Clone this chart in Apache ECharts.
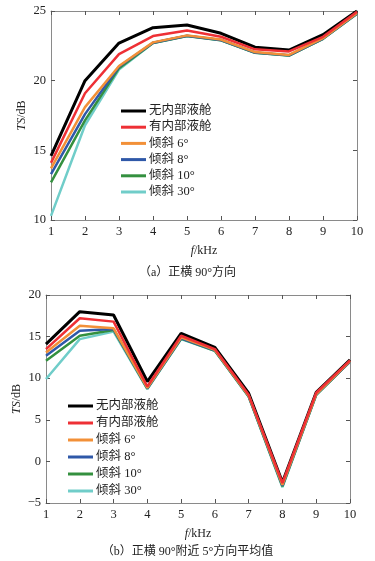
<!DOCTYPE html>
<html>
<head>
<meta charset="utf-8">
<script src="https://cdn.jsdelivr.net/npm/echarts@6/dist/echarts.min.js"></script>
<style>
  html, body { margin: 0; padding: 0; background: #fff; }
  #main { width: 375px; height: 561px; }
</style>
</head>
<body>
<div id="main"></div>
<script>
// 频率 / kHz
var freq = [1, 2, 3, 4, 5, 6, 7, 8, 9, 10];
var names = ['无内部液舱', '有内部液舱', '倾斜 6°', '倾斜 8°', '倾斜 10°', '倾斜 30°'];
var colors = ['#000000', '#ee3035', '#f29038', '#2f58a8', '#34903f', '#70cdc9'];

// (a) 正横 90°方向
var aNone = [14.6, 20.0, 22.7, 23.8, 24.0, 23.4, 22.4, 22.2, 23.3, 25.0];
var aTank = [14.1, 19.1, 21.9, 23.2, 23.6, 23.15, 22.25, 22.1, 23.15, 24.95];
var aTilt6 = [13.7, 18.1, 21.05, 22.75, 23.25, 22.95, 22.05, 21.85, 23.05, 24.85];
var aTilt8 = [13.3, 17.6, 21.0, 22.72, 23.22, 22.92, 22.02, 21.82, 23.02, 24.82];
var aTilt10 = [12.7, 17.15, 20.9, 22.7, 23.2, 22.9, 22.0, 21.8, 23.0, 24.8];
var aTilt30 = [10.3, 16.8, 20.8, 22.7, 23.2, 22.9, 22.0, 21.8, 23.0, 24.8];

// (b) 正横 90°附近 5°方向平均值
var bNone = [14.1, 18.0, 17.6, 9.6, 15.4, 13.7, 8.2, -2.5, 8.3, 12.2];
var bTank = [13.5, 17.2, 16.8, 9.0, 15.1, 13.5, 8.0, -2.6, 8.25, 12.15];
var bTilt6 = [13.1, 16.3, 16.0, 8.85, 14.9, 13.4, 7.9, -2.8, 8.1, 12.05];
var bTilt8 = [12.7, 15.7, 15.9, 8.8, 14.8, 13.35, 7.85, -2.9, 8.05, 12.0];
var bTilt10 = [12.1, 15.1, 15.8, 8.75, 14.75, 13.3, 7.8, -3.0, 8.0, 12.0];
var bTilt30 = [9.9, 14.7, 15.6, 8.7, 14.7, 13.3, 7.8, -3.1, 8.0, 12.0];

var aData = [aNone, aTank, aTilt6, aTilt8, aTilt10, aTilt30];
var bData = [bNone, bTank, bTilt6, bTilt8, bTilt10, bTilt30];

var serif = 'Liberation Serif, Noto Sans CJK SC, serif';
var textColor = '#222';
var frameColor = '#8a8a8a';

function pairs(ys) {
  return freq.map(function (f, i) { return [f, ys[i]]; });
}

function xAxes(gridIndex) {
  var base = {
    type: 'value', gridIndex: gridIndex, min: 1, max: 10, interval: 1,
    axisLine: { show: true, onZero: false, lineStyle: { color: frameColor, width: 1 } },
    axisTick: { show: true, inside: true, length: 4, lineStyle: { color: '#555' } },
    splitLine: { show: false }
  };
  var bottom = Object.assign({}, base, {
    position: 'bottom',
    axisLabel: { show: true, color: textColor, fontFamily: serif, fontSize: 12.5, margin: 5 },
    name: '{i|f}/kHz', nameLocation: 'middle', nameGap: 25,
    nameTextStyle: {
      color: textColor, fontFamily: serif, fontSize: 12,
      rich: { i: { fontStyle: 'italic', fontFamily: serif, fontSize: 12, color: textColor } }
    }
  });
  var top = Object.assign({}, base, { position: 'top', axisLabel: { show: false } });
  return [bottom, top];
}

function yAxes(gridIndex, min, max) {
  var base = {
    type: 'value', gridIndex: gridIndex, min: min, max: max, interval: 5,
    axisLine: { show: true, onZero: false, lineStyle: { color: frameColor, width: 1 } },
    axisTick: { show: true, inside: true, length: 4, lineStyle: { color: '#555' } },
    splitLine: { show: false }
  };
  var left = Object.assign({}, base, {
    position: 'left',
    axisLabel: {
      show: true, color: textColor, fontFamily: serif, fontSize: 12.5, margin: 5,
      formatter: function (v) { return String(v).replace('-', '−'); }
    },
    name: '{i|TS}/dB', nameLocation: 'middle', nameGap: 23, nameMoveOverlap: false,
    nameTextStyle: {
      color: textColor, fontFamily: serif, fontSize: 12,
      rich: { i: { fontStyle: 'italic', fontFamily: serif, fontSize: 12, color: textColor } }
    }
  });
  var right = Object.assign({}, base, { position: 'right', axisLabel: { show: false } });
  return [left, right];
}

// 绘制顺序：黑线在下，红线在最上
var zOrder = [1, 6, 5, 4, 3, 2];

function makeSeries(dataSet, axisIdx) {
  return dataSet.map(function (ys, k) {
    return {
      name: names[k], type: 'line', xAxisIndex: axisIdx, yAxisIndex: axisIdx,
      data: pairs(ys), showSymbol: false, symbol: 'none', z: zOrder[k],
      lineStyle: { color: colors[k], width: k === 0 ? 3 : 2.5 },
      itemStyle: { color: colors[k] }
    };
  });
}

function makeLegend(left, top, gap) {
  return {
    data: names, orient: 'vertical', left: left, top: top, padding: 0,
    icon: 'rect', itemWidth: 25, itemHeight: 3, itemGap: gap,
    selectedMode: false,
    textStyle: { color: textColor, fontFamily: serif, fontSize: 12.5, lineHeight: 14, padding: [0, 0, 0, -2] }
  };
}

var chart = echarts.init(document.getElementById('main'));
chart.setOption({
  backgroundColor: '#fff',
  animation: false,
  title: [
    { text: '（a）正横 90°方向', left: 'center', top: 262,
      textStyle: { fontFamily: serif, fontSize: 12, fontWeight: 'normal', color: textColor } },
    { text: '（b）正横 90°附近 5°方向平均值', left: 'center', top: 541,
      textStyle: { fontFamily: serif, fontSize: 12, fontWeight: 'normal', color: textColor } }
  ],
  grid: [
    { left: 51, right: 18, top: 11, bottom: 341, containLabel: false },
    { left: 46, right: 25, top: 295, bottom: 58, containLabel: false }
  ],
  legend: [makeLegend(121, 104, 2.2), makeLegend(68, 399, 3)],
  xAxis: xAxes(0).concat(xAxes(1)),
  yAxis: yAxes(0, 10, 25).concat(yAxes(1, -5, 20)),
  series: makeSeries(aData, 0).concat(makeSeries(bData, 2))
});
</script>
</body>
</html>
